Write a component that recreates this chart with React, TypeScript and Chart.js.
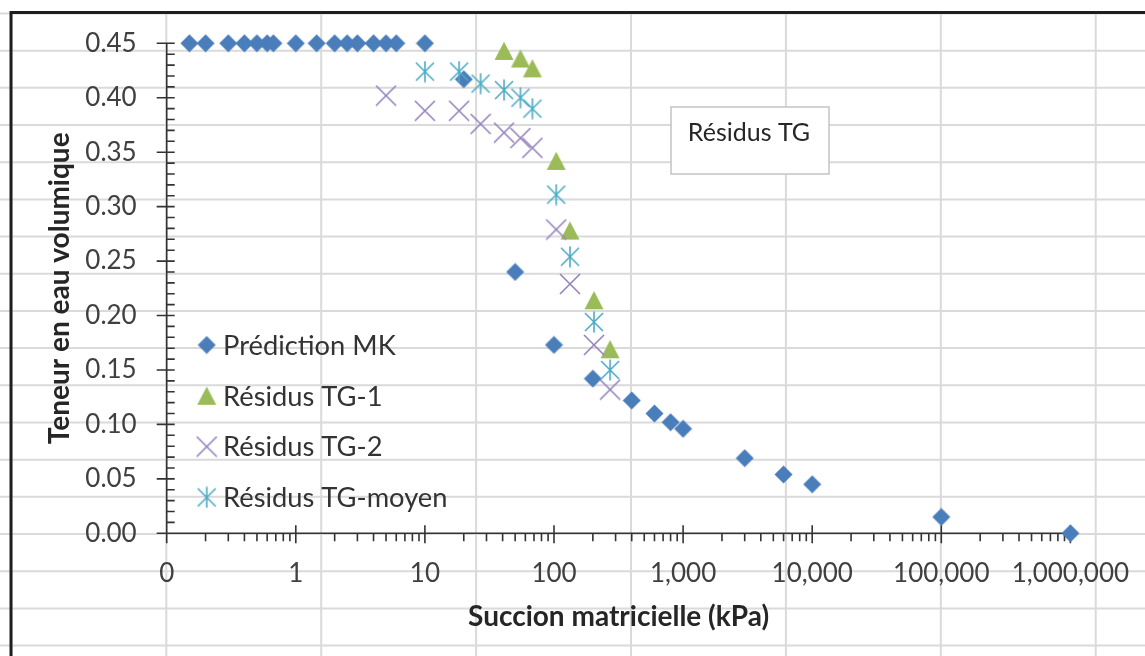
import React, { useEffect, useRef } from 'react';
import { Chart, registerables } from 'chart.js';

Chart.register(...registerables);

// ---- Data ----
const mkSuction = [0.15, 0.2, 0.3, 0.4, 0.5, 0.6, 0.67, 1, 1.45, 2, 2.5, 3, 4, 5, 6, 10, 20, 50, 100, 200, 400, 600, 800, 1000, 3000, 6000, 10000, 100000, 1000000];
const mkTheta = [0.45, 0.45, 0.45, 0.45, 0.45, 0.45, 0.45, 0.45, 0.45, 0.45, 0.45, 0.45, 0.45, 0.45, 0.45, 0.45, 0.417, 0.24, 0.173, 0.142, 0.122, 0.11, 0.102, 0.096, 0.069, 0.054, 0.045, 0.015, 0];

const tg1Suction = [41, 55, 68, 104, 133, 204, 272];
const tg1Theta = [0.443, 0.436, 0.427, 0.342, 0.278, 0.214, 0.169];

const tg2Suction = [5, 10, 18.4, 27, 41, 55, 68, 104, 133, 204, 272];
const tg2Theta = [0.402, 0.388, 0.388, 0.376, 0.368, 0.363, 0.354, 0.279, 0.229, 0.173, 0.132];

const moySuction = [10, 18.4, 27, 41, 55, 68, 104, 133, 204, 272];
const moyTheta = [0.424, 0.424, 0.413, 0.407, 0.4, 0.39, 0.311, 0.254, 0.194, 0.15];

const seriesNames = ['Prédiction MK', 'Résidus TG-1', 'Résidus TG-2', 'Résidus TG-moyen'];
const xMajorTicks = [0.1, 1, 10, 100, 1000, 10000, 100000, 1000000];
const yTicks = [0, 0.05, 0.1, 0.15, 0.2, 0.25, 0.3, 0.35, 0.4, 0.45];
const xTitle = 'Succion matricielle (kPa)';
const yTitle = 'Teneur en eau volumique';
const boxText = 'Résidus TG';

const FONT = 'Lato';
const BLUE = '#4a7ebb';
const GREEN = '#9bbb59';
const PURPLE = '#9581bd';
const CYAN = '#4bacc6';

function makeMarker(kind: string): HTMLCanvasElement {
  const c = document.createElement('canvas');
  const s = kind === 'diamond' ? 19 : kind === 'triangle' ? 20 : 22;
  c.width = s;
  c.height = s;
  const g = c.getContext('2d')!;
  g.lineCap = 'butt';
  if (kind === 'diamond') {
    g.fillStyle = BLUE;
    g.beginPath();
    g.moveTo(9.5, 0.5);
    g.lineTo(18.5, 9.5);
    g.lineTo(9.5, 18.5);
    g.lineTo(0.5, 9.5);
    g.closePath();
    g.fill();
  } else if (kind === 'triangle') {
    g.fillStyle = GREEN;
    g.beginPath();
    g.moveTo(10, 0.8);
    g.lineTo(19.5, 19);
    g.lineTo(0.5, 19);
    g.closePath();
    g.fill();
  } else if (kind === 'x') {
    g.strokeStyle = PURPLE;
    g.lineWidth = 1.6;
    g.beginPath();
    g.moveTo(1, 1);
    g.lineTo(21, 21);
    g.moveTo(21, 1);
    g.lineTo(1, 21);
    g.stroke();
  } else {
    g.strokeStyle = CYAN;
    g.lineWidth = 1.6;
    g.beginPath();
    g.moveTo(2, 2);
    g.lineTo(20, 20);
    g.moveTo(20, 2);
    g.lineTo(2, 20);
    g.moveTo(11, 0.5);
    g.lineTo(11, 21.5);
    g.stroke();
  }
  return c;
}

const sheetPlugin = {
  id: 'sheet',
  beforeDraw(chart: any) {
    const { ctx, width, height } = chart;
    ctx.save();
    ctx.fillStyle = '#ffffff';
    ctx.fillRect(0, 0, width, height);
    ctx.strokeStyle = '#dadada';
    ctx.lineWidth = 2;
    ctx.beginPath();
    for (let y = 13.5; y < height; y += 37.18) {
      ctx.moveTo(0, y);
      ctx.lineTo(width, y);
    }
    for (let x = 11.4; x < width; x += 154.9) {
      ctx.moveTo(x, 12);
      ctx.lineTo(x, height);
    }
    ctx.stroke();
    ctx.strokeStyle = '#1e1e1e';
    ctx.lineWidth = 3;
    ctx.beginPath();
    ctx.moveTo(9.5, 12.5);
    ctx.lineTo(width, 12.5);
    ctx.moveTo(11, 11);
    ctx.lineTo(11, height);
    ctx.stroke();
    ctx.restore();
  },
};

const axesPlugin = {
  id: 'excelAxes',
  beforeDatasetsDraw(chart: any) {
    const { ctx, chartArea } = chart;
    const { left, right, top, bottom } = chartArea;
    const xs = chart.scales.x;
    const ys = chart.scales.y;
    ctx.save();
    ctx.strokeStyle = '#333333';
    ctx.lineWidth = 1.6;
    ctx.beginPath();
    ctx.moveTo(left, top);
    ctx.lineTo(left, bottom);
    ctx.moveTo(left, bottom);
    ctx.lineTo(right, bottom);
    yTicks.forEach((v) => {
      const py = ys.getPixelForValue(v);
      ctx.moveTo(left - 10, py);
      ctx.lineTo(left + 8, py);
    });
    for (let i = 1; i < 45; i++) {
      if (i % 5 === 0) continue;
      const py = ys.getPixelForValue(i / 100);
      ctx.moveTo(left, py);
      ctx.lineTo(left + 8, py);
    }
    xMajorTicks.forEach((v) => {
      const px = xs.getPixelForValue(v);
      ctx.moveTo(px, bottom - 8);
      ctx.lineTo(px, bottom + 10);
    });
    for (let d = 0; d < xMajorTicks.length - 1; d++) {
      for (let m = 2; m <= 9; m++) {
        const px = xs.getPixelForValue(xMajorTicks[d] * m);
        ctx.moveTo(px, bottom);
        ctx.lineTo(px, bottom + 8);
      }
    }
    ctx.stroke();
    ctx.restore();
  },
};

const overlayPlugin = {
  id: 'overlay',
  afterDraw(chart: any) {
    const { ctx } = chart;
    ctx.save();
    // text box
    ctx.fillStyle = '#ffffff';
    ctx.fillRect(671, 107, 158, 67);
    ctx.strokeStyle = '#c4c4c4';
    ctx.lineWidth = 1.5;
    ctx.strokeRect(671, 107, 158, 67);
    ctx.fillStyle = '#262626';
    ctx.font = `25px ${FONT}`;
    ctx.textAlign = 'center';
    ctx.textBaseline = 'middle';
    ctx.fillText(boxText, 749, 133);
    // legend
    const ys0 = 345;
    const step = 50.8;
    ctx.textAlign = 'left';
    ctx.font = `27.3px ${FONT}`;
    chart.data.datasets.forEach((ds: any, i: number) => {
      const cy = ys0 + i * step;
      const img = ds.pointStyle as HTMLCanvasElement;
      ctx.drawImage(img, 206.7 - img.width / 2, cy - img.height / 2);
      ctx.fillStyle = '#333333';
      ctx.fillText(ds.label, 223, cy + 1);
    });
    ctx.restore();
  },
};

export default function App() {
  const ref = useRef<HTMLCanvasElement>(null);
  useEffect(() => {
    if (!ref.current) return;
    const markers = [makeMarker('diamond'), makeMarker('triangle'), makeMarker('x'), makeMarker('star')];
    const sets = [
      [mkSuction, mkTheta],
      [tg1Suction, tg1Theta],
      [tg2Suction, tg2Theta],
      [moySuction, moyTheta],
    ];
    const datasets = sets.map(([xs, ys], i) => ({
      label: seriesNames[i],
      data: xs.map((x, j) => ({ x, y: ys[j] })),
      pointStyle: markers[i],
      pointRadius: 10,
      showLine: false,
      clip: false as any,
      order: 4 - i,
    }));
    const chart = new Chart(ref.current, {
      type: 'scatter',
      data: { datasets },
      options: {
        responsive: false,
        animation: false,
        devicePixelRatio: 1,
        events: [],
        layout: { padding: { left: 40, top: 43.3, right: 74.6, bottom: 22.7 } },
        plugins: { legend: { display: false }, tooltip: { enabled: false } },
        scales: {
          x: {
            type: 'logarithmic',
            position: 'bottom',
            min: 0.1,
            max: 1000000,
            grid: { display: false, drawTicks: false },
            border: { display: false },
            afterBuildTicks: (s: any) => {
              s.ticks = xMajorTicks.map((v) => ({ value: v }));
            },
            afterFit: (s: any) => {
              s.height = 100;
              s.paddingLeft = 0;
              s.paddingRight = 0;
            },
            ticks: {
              autoSkip: false,
              maxRotation: 0,
              minRotation: 0,
              padding: 24.4,
              color: '#404040',
              font: { family: FONT, size: 26 },
              callback: (v: any) => Number(v).toLocaleString('en-US', { maximumFractionDigits: 0 }),
            },
            title: {
              display: true,
              text: xTitle,
              color: '#262626',
              font: { family: FONT, size: 28, weight: 'bold' },
              padding: { top: 0, bottom: 0 },
            },
          },
          y: {
            type: 'linear',
            min: 0,
            max: 0.45,
            grid: { display: false, drawTicks: false },
            border: { display: false },
            afterBuildTicks: (s: any) => {
              s.ticks = yTicks.map((v) => ({ value: v }));
            },
            afterFit: (s: any) => {
              s.width = 126.7;
              s.paddingTop = 0;
              s.paddingBottom = 0;
            },
            ticks: {
              padding: 30,
              color: '#404040',
              font: { family: FONT, size: 26 },
              callback: (v: any) => Number(v).toFixed(2),
            },
            title: {
              display: true,
              text: yTitle,
              color: '#262626',
              font: { family: FONT, size: 28, weight: 'bold' },
              padding: { top: 3.2, bottom: 0 },
            },
          },
        },
      },
      plugins: [sheetPlugin, axesPlugin, overlayPlugin],
    });
    return () => chart.destroy();
  }, []);
  return (
    <div style={{ position: 'fixed', left: 0, top: 0, width: 1145, height: 656 }}>
      <canvas ref={ref} width={1145} height={656} style={{ width: 1145, height: 656, display: 'block' }} />
    </div>
  );
}
